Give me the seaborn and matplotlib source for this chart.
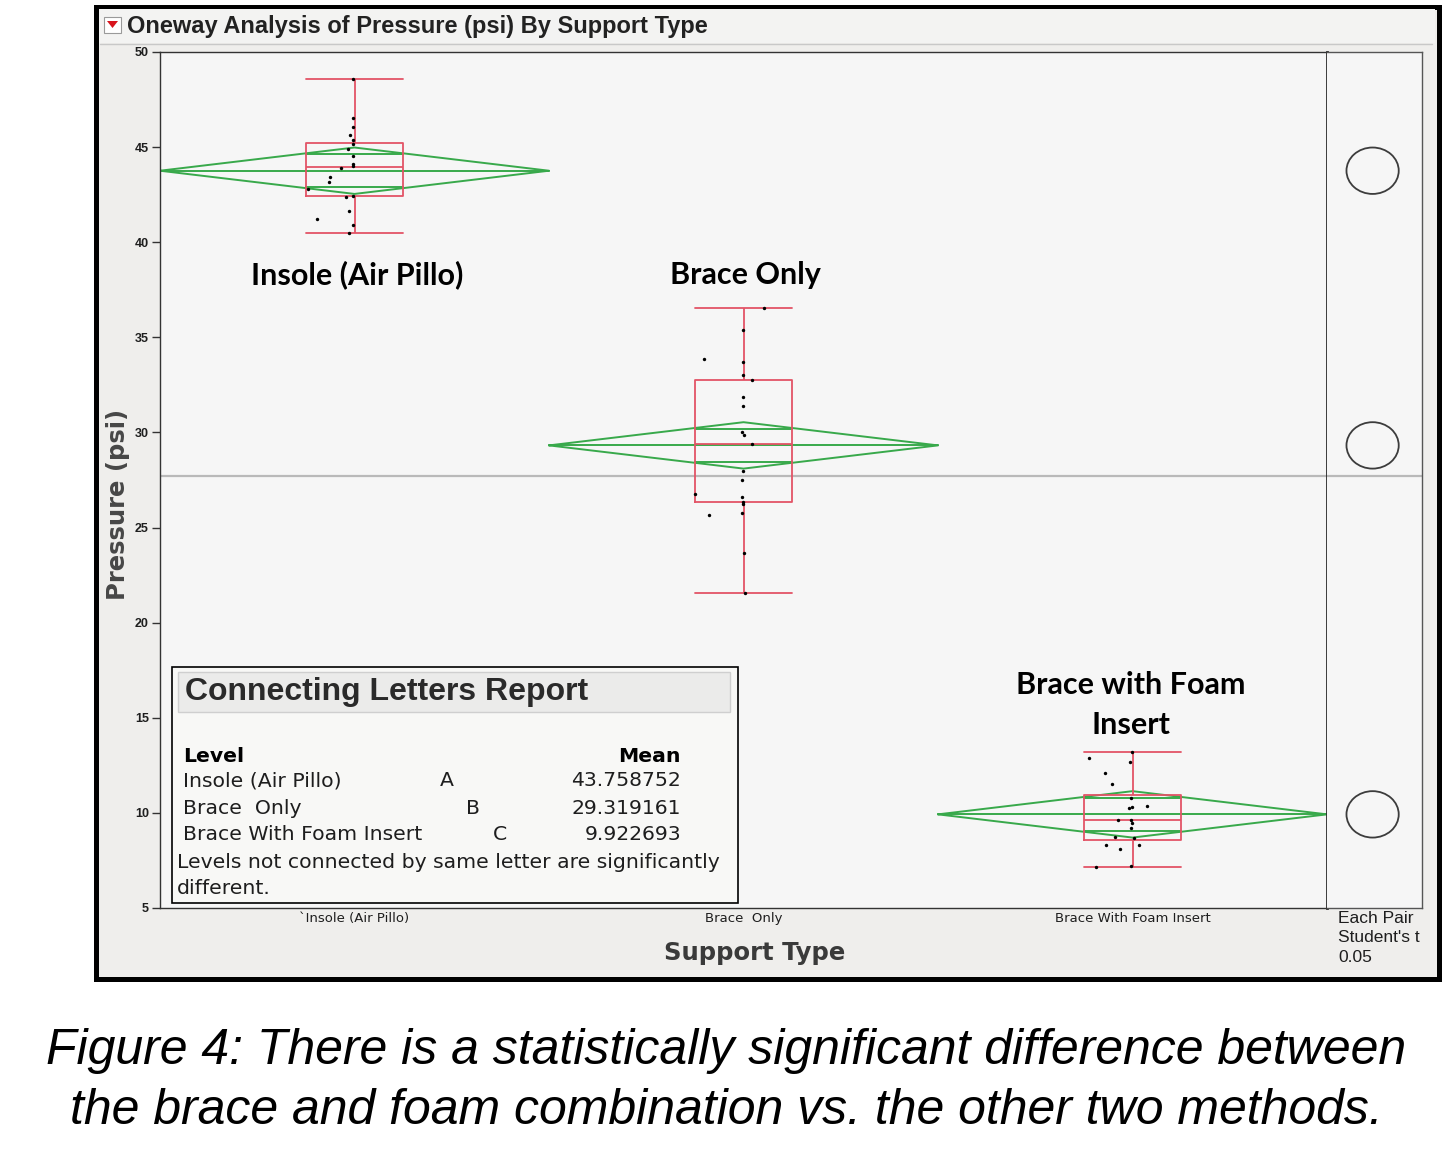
import numpy as np
import pandas as pd
import matplotlib
matplotlib.use("Agg")
import matplotlib.pyplot as plt
import seaborn as sns
from matplotlib.patches import Rectangle, Polygon, Ellipse

# ---------------- data ----------------
categories = ["Insole (Air Pillo)", "Brace  Only", "Brace With Foam Insert"]
tick_labels = ["`Insole (Air Pillo)", "Brace  Only", "Brace With Foam Insert"]
plot_labels = ["Insole (Air Pillo)", "Brace Only", "Brace with Foam\nInsert"]

insole = [48.58, 46.51, 46.07, 45.64, 45.37, 45.15, 44.92, 44.51, 44.11, 44.02,
          43.92, 43.41, 43.15, 42.78, 42.38, 42.45, 41.64, 41.24, 40.92, 40.47]
insole_jitter = [-0.005, -0.004, -0.004, -0.012, -0.004, -0.004, -0.017, -0.004, -0.004, -0.004,
                 -0.035, -0.062, -0.066, -0.119, -0.022, -0.004, -0.014, -0.096, -0.004, -0.015]

brace_only = [36.52, 35.40, 33.84, 33.72, 33.00, 32.75, 31.84, 31.39, 30.00, 29.86, 29.41,
              27.99, 27.50, 26.76, 26.59, 26.33, 26.25, 25.66, 25.75, 23.66, 21.57]
brace_only_jitter = [0.053, -0.002, -0.102, -0.002, -0.002, 0.023, -0.002, -0.002, -0.003, 0.002, 0.021,
                     -0.002, -0.004, -0.125, -0.003, -0.002, -0.002, -0.089, -0.003, 0.002, 0.004]

brace_foam = [13.18, 12.90, 12.67, 12.09, 11.53, 10.76, 10.37, 10.26, 10.30, 9.64,
              9.61, 9.46, 9.21, 8.73, 8.66, 8.31, 8.31, 8.08, 7.20, 7.13]
brace_foam_jitter = [-0.002, -0.112, -0.007, -0.071, -0.053, -0.003, 0.036, -0.009, -0.002, -0.036,
                     -0.003, -0.001, -0.003, -0.045, 0.004, -0.067, 0.016, -0.033, -0.003, -0.094]

means = [43.758752, 29.319161, 9.922693]
mean_texts = ["43.758752", "29.319161", "9.922693"]
letters = ["A", "B", "C"]
ci_half = [1.22, 1.22, 1.22]
yticks = [5, 10, 15, 20, 25, 30, 35, 40, 45, 50]

# ---------------- frame ----------------
W, H = 1453, 1170
def fx(x):
    return x / W
def fy(y):
    return 1 - y / H

RED = "#e35466"
GREEN = "#38a94b"
TXT = "#1e1e1e"
DV = ["DejaVu Sans"]

sns.set_style("white")
plt.rcParams["font.family"] = ["Liberation Sans", "DejaVu Sans"]

fig = plt.figure(figsize=(W / 100, H / 100), dpi=100)
fig.patch.set_facecolor("white")

# JMP panel
fig.add_artist(Rectangle((fx(95.5), fy(978.5)), fx(1438.5) - fx(95.5), fy(6.5) - fy(978.5),
                         transform=fig.transFigure, facecolor="#efeeec", edgecolor="black",
                         linewidth=3.6, zorder=-2))
fig.add_artist(Rectangle((fx(99), fy(43)), fx(1435) - fx(99), fy(9) - fy(43),
                         transform=fig.transFigure, facecolor="#f3f3f2", edgecolor="none",
                         zorder=-1))
fig.add_artist(plt.Line2D([fx(100), fx(1432)], [fy(44), fy(44)], transform=fig.transFigure,
                          color="#c8c8c8", lw=1, zorder=-1))
# red triangle icon
fig.add_artist(Rectangle((fx(104), fy(33)), fx(121) - fx(104), fy(17) - fy(33),
                         transform=fig.transFigure, facecolor="white", edgecolor="#9a9a9a",
                         lw=0.8, zorder=2))
fig.add_artist(Polygon([(fx(107), fy(21)), (fx(118), fy(21)), (fx(112.5), fy(28))],
                       closed=True, transform=fig.transFigure, facecolor="#d8141c",
                       edgecolor="none", zorder=3))
fig.text(fx(127), fy(26), "Oneway Analysis of Pressure (psi) By Support Type",
         ha="left", va="center", fontsize=17, fontweight="bold", color="#222222")

# ---------------- main axes ----------------
ax = fig.add_axes([fx(160), fy(908), fx(1327) - fx(160), fy(52) - fy(908)])
axr = fig.add_axes([fx(1327), fy(908), fx(1422) - fx(1327), fy(52) - fy(908)])
for a in (ax, axr):
    a.set_facecolor("#f6f6f6")

df = pd.DataFrame({
    "Support Type": [categories[0]] * len(insole) + [categories[1]] * len(brace_only)
                    + [categories[2]] * len(brace_foam),
    "Pressure (psi)": insole + brace_only + brace_foam,
    "jitter": insole_jitter + brace_only_jitter + brace_foam_jitter,
})
df["xpos"] = df["Support Type"].map({c: i for i, c in enumerate(categories)}) + df["jitter"]
grand_mean = df["Pressure (psi)"].mean()

ax.axhline(grand_mean, color="#b9b9b9", lw=1.6, zorder=1)
axr.axhline(grand_mean, color="#b9b9b9", lw=1.6, zorder=1)

# means diamonds
ov = 0.5 * (1 - 1 / np.sqrt(2)) * 0.85
for i, (m, h) in enumerate(zip(means, ci_half)):
    xs = [i - 0.5, i, i + 0.5, i, i - 0.5]
    ys = [m, m + h, m, m - h, m]
    ax.plot(xs, ys, color=GREEN, lw=1.4, zorder=2)
    ax.plot([i - 0.5, i + 0.5], [m, m], color=GREEN, lw=1.4, zorder=2)
    for s in (1, -1):
        ax.plot([i - ov, i + ov], [m + s * h / np.sqrt(2)] * 2, color=GREEN, lw=1.4, zorder=2)

sns.boxplot(data=df, x="Support Type", y="Pressure (psi)", order=categories, ax=ax,
            whis=(0, 100), width=0.247, fill=False, color=RED, linewidth=1.3,
            capwidths=0.247, zorder=3)

sns.scatterplot(data=df, x="xpos", y="Pressure (psi)", ax=ax, color="black", s=6,
                linewidth=0, legend=False, zorder=4)

ax.set_xlim(-0.5, 2.5)
ax.set_ylim(5, 50)
ax.set_yticks(yticks)
ax.set_yticklabels([str(t) for t in yticks], fontsize=9, color=TXT, fontweight="bold")
ax.set_xticks([0, 1, 2])
ax.set_xticklabels(tick_labels, fontsize=9.5, color=TXT, family=DV)
ax.set_xticks([0.5, 1.5], minor=True)
ax.tick_params(axis="x", which="major", length=0, pad=3)
ax.tick_params(axis="x", which="minor", length=5, width=1, color="#333333", direction="out")
ax.tick_params(axis="y", length=6, width=1, color="#333333", direction="out", pad=2, left=True)
ax.set_xlabel("")
ax.set_ylabel("")
for side, sp in ax.spines.items():
    sp.set_visible(True)
    sp.set_color("#333333")
    sp.set_linewidth(1.0)
ax.spines["right"].set_linewidth(2.0)
ax.spines["right"].set_color("#2a2a2a")

# category labels inside plot
label_y = [38.28, 38.28, 15.67]
label_x = [0.008, 1.005, 1.995]
for lx, ly, t in zip(label_x, label_y, plot_labels):
    ax.text(lx, ly, t, ha="center", va="center", fontsize=22, fontweight="bold",
            family=["Lato", "DejaVu Sans"], color="black", linespacing=1.55, zorder=5)

# comparison circles
axr.set_xlim(0, 1)
axr.set_ylim(5, 50)
for m, h in zip(means, ci_half):
    axr.add_patch(Ellipse((0.48, m), width=0.55, height=2 * h, facecolor="none",
                          edgecolor="#3c3c3c", lw=1.3, zorder=3))
axr.set_xticks([])
axr.set_yticks([])
for side, sp in axr.spines.items():
    sp.set_color("#555555")
    sp.set_linewidth(1.0)
axr.spines["left"].set_visible(False)

# axis labels
fig.text(fx(118), fy(504), "Pressure (psi)", rotation=90, ha="center", va="center",
         fontsize=17.5, fontweight="bold", color="#474747", family=DV)
fig.text(fx(755), fy(953), "Support Type", ha="center", va="center",
         fontsize=17.5, fontweight="bold", color="#3a3a3a", family=DV)
fig.text(fx(1338), fy(938), "Each Pair\nStudent's t\n0.05", ha="left", va="center",
         fontsize=12.5, color=TXT, linespacing=1.4)

# ---------------- connecting letters report ----------------
fig.add_artist(Rectangle((fx(172), fy(903)), fx(738) - fx(172), fy(667) - fy(903),
                         transform=fig.transFigure, facecolor="#f8f8f6", edgecolor="black",
                         lw=1.2, zorder=6))
fig.add_artist(Rectangle((fx(178), fy(712)), fx(730) - fx(178), fy(672) - fy(712),
                         transform=fig.transFigure, facecolor="#ebebea", edgecolor="#cfcfcf",
                         lw=1.0, zorder=7))
fig.text(fx(185), fy(692), "Connecting Letters Report", ha="left", va="center",
         fontsize=23, fontweight="bold", color="#2a2a2a", zorder=8)
TS = 14.7
fig.text(fx(183), fy(756), "Level", ha="left", va="center", fontsize=TS,
         fontweight="bold", color="black", zorder=8, family=DV)
fig.text(fx(681), fy(756), "Mean", ha="right", va="center", fontsize=TS,
         fontweight="bold", color="black", zorder=8, family=DV)
row_y = [781, 808, 835]
letter_x = [447, 473, 500]
for name, let, mt, ry, lx in zip(categories, letters, mean_texts, row_y, letter_x):
    fig.text(fx(183), fy(ry), name, ha="left", va="center", fontsize=TS, color=TXT,
             zorder=8, family=DV)
    fig.text(fx(lx), fy(ry), let, ha="center", va="center", fontsize=TS, color=TXT,
             zorder=8, family=DV)
    fig.text(fx(681), fy(ry), mt, ha="right", va="center", fontsize=TS, color=TXT,
             zorder=8, family=DV)
fig.text(fx(177), fy(863), "Levels not connected by same letter are significantly",
         ha="left", va="center", fontsize=TS, color=TXT, zorder=8, family=DV)
fig.text(fx(177), fy(889), "different.", ha="left", va="center", fontsize=TS, color=TXT,
         zorder=8, family=DV)

# ---------------- caption ----------------
cap_font = ["Liberation Sans", "DejaVu Sans"]
fig.text(fx(726), fy(1051), "Figure 4: There is a statistically significant difference between",
         ha="center", va="center", fontsize=36, style="italic", family=cap_font, color="black")
fig.text(fx(726), fy(1111), "the brace and foam combination vs. the other two methods.",
         ha="center", va="center", fontsize=36, style="italic", family=cap_font, color="black")

fig.savefig("out.png", dpi=100, facecolor="white")
